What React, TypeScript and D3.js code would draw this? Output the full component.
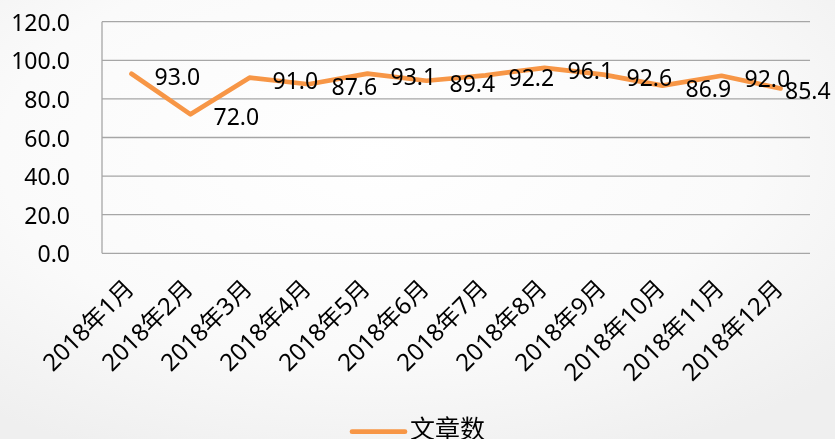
import React from "react";
import * as d3 from "d3";

const categories = [
  "2018年1月", "2018年2月", "2018年3月", "2018年4月", "2018年5月", "2018年6月",
  "2018年7月", "2018年8月", "2018年9月", "2018年10月", "2018年11月", "2018年12月",
];
const values = [93.0, 72.0, 91.0, 87.6, 93.1, 89.4, 92.2, 96.1, 92.6, 86.9, 92.0, 85.4];
const yTicks = [0, 20, 40, 60, 80, 100, 120];
const seriesName = "文章数";

const W = 835;
const H = 439;
const margin = { left: 102, right: 25, top: 21.7, bottom: 185.7 };
const ORANGE = "#F79646";
const GRID = "#A6A6A6";
const FONT = "'Noto Sans', 'Noto Sans CJK SC', sans-serif";

export default function App() {
  const x = d3
    .scaleBand<string>()
    .domain(categories)
    .range([margin.left, W - margin.right]);
  const y = d3.scaleLinear().domain([0, 120]).range([H - margin.bottom, margin.top]);
  const cx = (c: string) => (x(c) as number) + x.bandwidth() / 2;

  const line = d3
    .line<number>()
    .x((_, i) => cx(categories[i]))
    .y((d) => y(d));

  return (
    <svg
      width={W}
      height={H}
      style={{ position: "fixed", left: 0, top: 0, display: "block" }}
      fontFamily={FONT}
    >
      <defs>
        <radialGradient id="bg" cx="0.45" cy="0.35" r="0.75">
          <stop offset="0" stopColor="#ffffff" />
          <stop offset="0.6" stopColor="#fafafa" />
          <stop offset="1" stopColor="#efefef" />
        </radialGradient>
      </defs>
      <rect x={0} y={0} width={W} height={H} fill="url(#bg)" />

      {/* gridlines */}
      {yTicks.map((t) => (
        <line
          key={t}
          x1={margin.left}
          x2={W - margin.right}
          y1={y(t)}
          y2={y(t)}
          stroke={GRID}
          strokeWidth={1.3}
        />
      ))}
      {/* vertical axis line */}
      <line
        x1={margin.left}
        x2={margin.left}
        y1={y(120)}
        y2={y(0)}
        stroke={GRID}
        strokeWidth={1.3}
      />

      {/* y tick labels */}
      {yTicks.map((t) => (
        <text
          key={t}
          x={70}
          y={y(t)}
          textAnchor="end"
          dominantBaseline="central"
          fontSize={23}
          fill="#000"
        >
          {t.toFixed(1)}
        </text>
      ))}

      {/* x labels */}
      {categories.map((c) => (
        <text
          key={c}
          transform={`translate(${cx(c) + 4},${290}) rotate(-45)`}
          textAnchor="end"
          fontSize={24}
          fill="#000"
        >
          {c}
        </text>
      ))}

      {/* series line */}
      <path
        d={line(values) || ""}
        fill="none"
        stroke={ORANGE}
        strokeWidth={4.7}
        strokeLinejoin="round"
        strokeLinecap="round"
      />

      {/* data labels */}
      {values.map((v, i) => (
        <text
          key={i}
          x={Math.min(cx(categories[i]) + 23, W - 50)}
          y={y(v) + 2}
          dominantBaseline="central"
          fontSize={23}
          fill="#000"
        >
          {v.toFixed(1)}
        </text>
      ))}

      {/* legend */}
      <line
        x1={352}
        x2={405}
        y1={431.7}
        y2={431.7}
        stroke={ORANGE}
        strokeWidth={4.7}
        strokeLinecap="round"
      />
      <text x={410} y={438} fontSize={25} fill="#000" fontFamily="'Noto Sans CJK SC', sans-serif">
        {seriesName}
      </text>
    </svg>
  );
}
